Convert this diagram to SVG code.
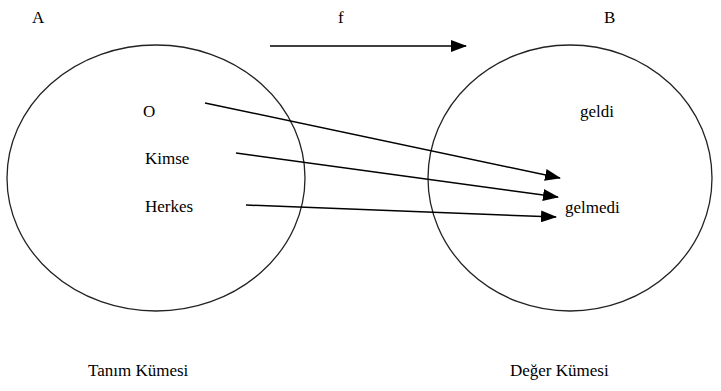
<svg xmlns="http://www.w3.org/2000/svg" width="721" height="391" viewBox="0 0 721 391">
<style>
text{font-family:'Liberation Serif','Times New Roman',serif;font-size:17px;fill:#000}
.set{fill:none;stroke:#222;stroke-width:1.3}
.ar{stroke:#000;stroke-width:1.5;fill:none;marker-end:url(#ah)}
</style>
<defs>
<marker id="ah" markerWidth="16" markerHeight="12" refX="15" refY="6" orient="auto" markerUnits="userSpaceOnUse">
<path d="M0,0 L16,6 L0,12 z" fill="#000"/>
</marker>
</defs>
<rect width="721" height="391" fill="#fff"/>
<g id="setA">
<ellipse class="set" cx="156" cy="178" rx="149" ry="133"/>
<text x="32" y="23">A</text>
<text x="143" y="117">O</text>
<text x="145" y="164">Kimse</text>
<text x="145" y="212">Herkes</text>
<text x="88" y="376">Tanım Kümesi</text>
</g>
<g id="setB">
<ellipse class="set" cx="570" cy="178" rx="142" ry="133"/>
<text x="604" y="23">B</text>
<text x="580" y="117">geldi</text>
<text x="565" y="213">gelmedi</text>
<text x="510" y="376">Değer Kümesi</text>
</g>
<g id="connectors">
<line class="ar" x1="270" y1="46" x2="466" y2="46"/>
<text x="338" y="23">f</text>
<line class="ar" x1="205" y1="103" x2="560" y2="178"/>
<line class="ar" x1="236" y1="153" x2="558" y2="197"/>
<line class="ar" x1="246" y1="205" x2="556" y2="217"/>
</g>
</svg>
